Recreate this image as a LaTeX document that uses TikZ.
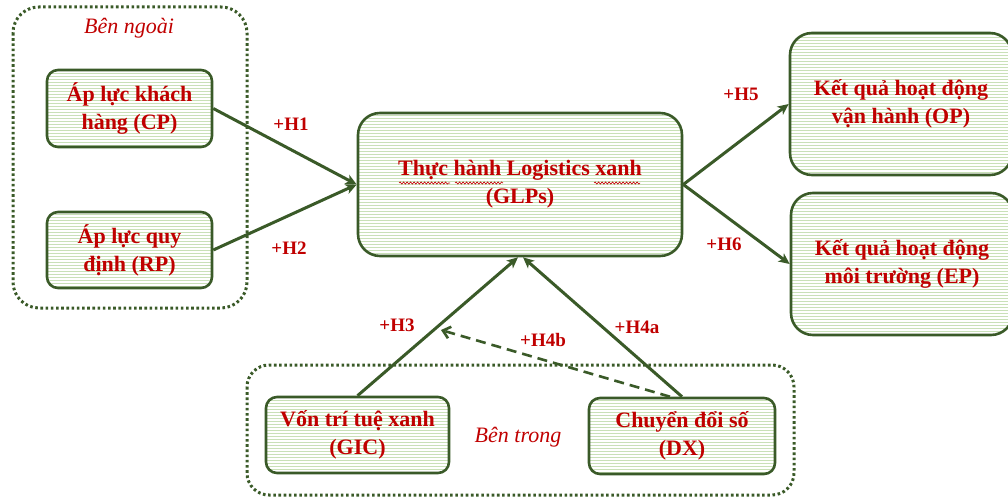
\documentclass[tikz,border=0pt]{standalone}
\usepackage{fontspec}
\setmainfont{Liberation Serif}
\usetikzlibrary{arrows.meta,patterns,calc,decorations.pathmorphing}

\definecolor{frame}{HTML}{3A5A28}
\definecolor{stripe}{HTML}{C9E0B8}
\definecolor{txt}{HTML}{C00000}

\tikzset{
  factor/.style={draw=frame, line width=2.6pt, rounded corners=11pt,
    preaction={fill=white}, pattern=horizontal lines, pattern color=stripe,
    text=txt, align=center, inner sep=0pt,
    font=\bfseries\fontsize{22}{28}\selectfont},
  group/.style={draw=frame, line width=3pt, dash pattern=on 2.6pt off 2.6pt,
    rounded corners=26pt},
  grouplabel/.style={text=txt, font=\itshape\fontsize{22}{26}\selectfont},
  hyp/.style={text=txt, font=\bfseries\fontsize{19}{23}\selectfont},
  link/.style={draw=frame, line width=3pt,
    -{Stealth[length=11pt,width=10pt,inset=3pt]}},
  weaklink/.style={draw=frame, line width=2.6pt, dash pattern=on 10pt off 6pt,
    -{Straight Barb[length=7pt,width=12pt,line width=2.6pt]}},
  spell/.style={draw=txt, line width=0.6pt,
    decorate, decoration={snake, amplitude=1.1pt, segment length=3.5pt}}
}

\begin{document}
\begin{tikzpicture}[x=1pt,y=-1pt]
\useasboundingbox (0,0) rectangle (1008,497);
\clip (0,0) rectangle (1008,497);

% groups of antecedents
\draw[group] (13,7) rectangle (247,308);
\draw[group, rounded corners=22pt] (247,365) rectangle (794,495);
\node[grouplabel] (outerlbl) at (129,28) {Bên ngoài};
\node[grouplabel] (innerlbl) at (518,437) {Bên trong};

% constructs
\node[factor, minimum width=165pt, minimum height=77pt] (CP) at (129.5,108.5)
  {Áp lực khách\\hàng (CP)};
\node[factor, minimum width=165pt, minimum height=76pt] (RP) at (129.5,250)
  {Áp lực quy\\định (RP)};
\node[factor, rounded corners=22pt, minimum width=324pt, minimum height=143pt]
  (GLP) at (520,184.5) {Thực hành Logistics xanh\\(GLPs)};
\node[factor, rounded corners=22pt, minimum width=222pt, minimum height=142pt]
  (OP) at (901,104) {Kết quả hoạt động\\vận hành (OP)};
\node[factor, rounded corners=22pt, minimum width=222pt, minimum height=142pt]
  (EP) at (902,264) {Kết quả hoạt động\\môi trường (EP)};
\node[factor, minimum width=183pt, minimum height=76pt] (GIC) at (357.5,435)
  {Vốn trí tuệ xanh\\(GIC)};
\node[factor, minimum width=186pt, minimum height=76pt] (DX) at (682,436)
  {Chuyển đổi số\\(DX)};

% spell-check marks under the central title
\draw[spell] (399,183) -- (450,183);
\draw[spell] (455,183) -- (503,183);
\draw[spell] (594,183) -- (640,183);

% hypothesised paths
\draw[link] (CP.east) -- (GLP.west);
\draw[link] (RP.east) -- (GLP.west);
\draw[link] (GLP.east) -- (OP.west);
\draw[link] (GLP.east) -- (EP.west);
\draw[link] (GIC.north) -- ([xshift=-2pt]GLP.south);
\draw[link] (DX.north) -- ([xshift=3pt]GLP.south);
\coordinate (modpt) at (441,330);
\draw[weaklink] ([xshift=-12pt]DX.north) -- (modpt);

% path labels
\node[hyp] (h1) at (291,124) {+H1};
\node[hyp] (h2) at (289,248) {+H2};
\node[hyp] (h3) at (397,325) {+H3};
\node[hyp] (h4a) at (637,327) {+H4a};
\node[hyp] (h4b) at (543,340) {+H4b};
\node[hyp] (h5) at (741,94) {+H5};
\node[hyp] (h6) at (724,244) {+H6};
\end{tikzpicture}
\end{document}
